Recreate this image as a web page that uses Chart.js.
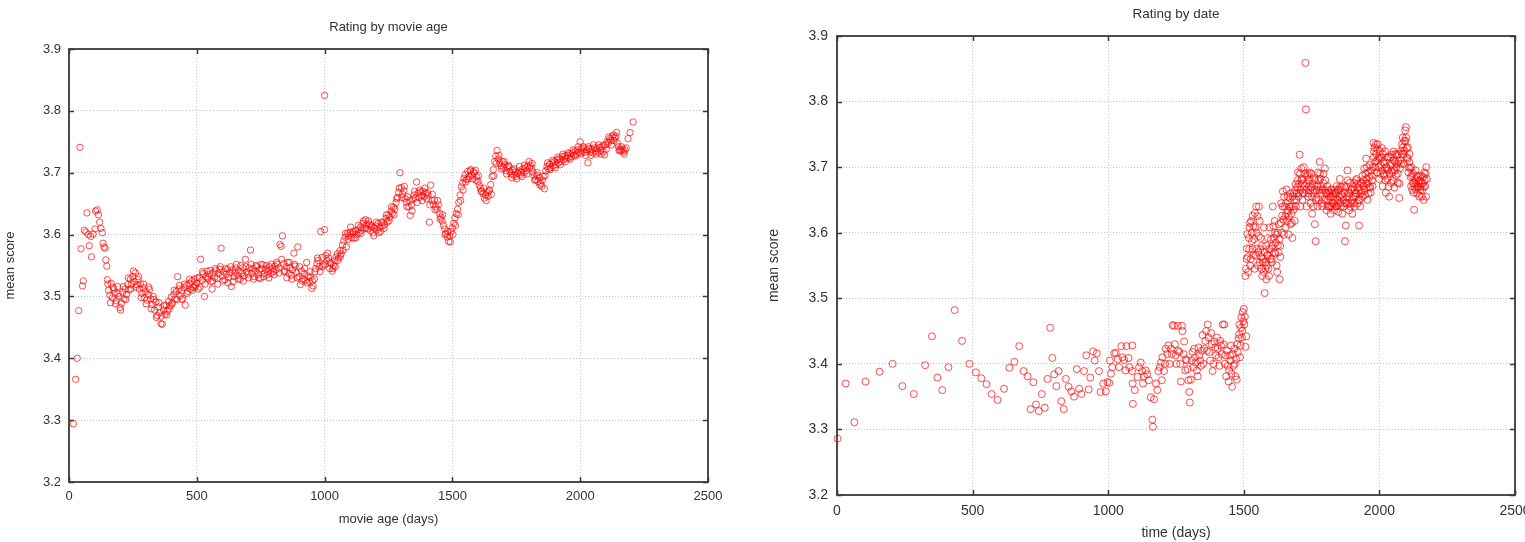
<!DOCTYPE html>
<html>
<head>
<meta charset="utf-8">
<script src="https://cdn.jsdelivr.net/npm/chart.js@4.4.1/dist/chart.umd.min.js"></script>
<style>
  html, body { margin: 0; padding: 0; background: #fff; overflow: hidden; width: 1525px; height: 542px; }
  #leftBox  { position: absolute; left: 0;     top: 0; width: 740px; height: 542px; background: #fff; }
  #rightBox { position: absolute; left: 722px; top: 0; width: 823px; height: 542px; background: #fff; }
</style>
</head>
<body>
<div id="leftBox"><canvas id="ageChart" width="740" height="542"></canvas></div>
<div id="rightBox"><canvas id="dateChart" width="823" height="542"></canvas></div>
<script>
// ---------------------------------------------------------------
// Dados (estimativas a partir da imagem)
// ---------------------------------------------------------------

// Eixos comuns
const xTickValues = [0, 500, 1000, 1500, 2000, 2500];
const yTickValues = [3.2, 3.3, 3.4, 3.5, 3.6, 3.7, 3.8, 3.9];

// "Rating by movie age" -- idade do filme (dias) e nota média
const ageDays = [
  17, 26, 32, 38, 43, 47, 53, 56, 60, 66, 70, 76, 79, 85, 88, 94, 102, 104, 110, 115,
  120, 125, 130, 133, 137, 141, 144, 148,
  150, 155, 160, 165, 170, 175, 180, 185, 190, 195, 200, 205, 210, 215, 220, 225, 230, 235, 240, 245,
  250, 255, 260, 265, 270, 275, 280, 285, 290, 295, 300, 305, 310, 315, 320, 325, 330, 335, 340, 345,
  350, 355, 360, 365, 370, 375, 380, 385, 390, 395, 400, 405, 410, 415, 420, 425, 430, 435, 440, 445,
  450, 455, 460, 465, 470, 475, 480, 485, 490, 495, 500, 505, 510, 515, 520, 525, 530, 535, 540, 545,
  550, 555, 560, 565, 570, 575, 580, 585, 590, 595, 600, 605, 610, 615, 620, 625, 630, 635, 640, 645,
  650, 655, 660, 665, 670, 675, 680, 685, 690, 695, 700, 705, 710, 715, 720, 725, 730, 735, 740, 745,
  750, 755, 760, 765, 770, 775, 780, 785, 790, 795, 800, 805, 810, 815, 820, 825, 830, 835, 840, 845,
  850, 855, 860, 865, 870, 875, 880, 885, 890, 895, 900, 905, 910, 915, 920, 925, 930, 935, 940, 945,
  950, 955, 960, 965, 970, 975, 980, 985, 990, 995, 1000, 1000, 1005, 1010, 1015, 1020, 1025, 1030, 1035, 1040, 1045,
  1050, 1055, 1060, 1065, 1070, 1075, 1080, 1085, 1090, 1095, 1100, 1105, 1110, 1115, 1120, 1125, 1130, 1135, 1140, 1145,
  1150, 1155, 1160, 1165, 1170, 1175, 1180, 1185, 1190, 1195, 1200, 1205, 1210, 1215, 1220, 1225, 1230, 1235, 1240, 1245,
  1250, 1255, 1260, 1265, 1270, 1275, 1280, 1285, 1290, 1295, 1300, 1305, 1310, 1315, 1320, 1325, 1330, 1335, 1340, 1345,
  1350, 1355, 1360, 1365, 1370, 1375, 1380, 1385, 1390, 1395, 1400, 1405, 1410, 1415, 1420, 1425, 1430, 1435, 1440, 1445,
  1450, 1455, 1460, 1465, 1470, 1475, 1480, 1485, 1490, 1495, 1500, 1505, 1510, 1515, 1520, 1525, 1530, 1535, 1540, 1545,
  1550, 1555, 1560, 1565, 1570, 1575, 1580, 1585, 1590, 1595, 1600, 1605, 1610, 1615, 1620, 1625, 1630, 1635, 1640, 1645,
  1650, 1655, 1660, 1665, 1670, 1675, 1680, 1685, 1690, 1695, 1700, 1705, 1710, 1715, 1720, 1725, 1730, 1735, 1740, 1745,
  1750, 1755, 1760, 1765, 1770, 1775, 1780, 1785, 1790, 1795, 1800, 1805, 1810, 1815, 1820, 1825, 1830, 1835, 1840, 1845,
  1850, 1855, 1860, 1865, 1870, 1875, 1880, 1885, 1890, 1895, 1900, 1905, 1910, 1915, 1920, 1925, 1930, 1935, 1940, 1945,
  1950, 1955, 1960, 1965, 1970, 1975, 1980, 1985, 1990, 1995, 2000, 2005, 2010, 2015, 2020, 2025, 2030, 2035, 2040, 2045,
  2050, 2055, 2060, 2065, 2070, 2075, 2080, 2085, 2090, 2095, 2100, 2105, 2110, 2115, 2120, 2125, 2130, 2135, 2140, 2145,
  2150, 2155, 2160, 2165, 2170, 2175, 2180, 2187, 2195, 2207
];
const ageScores = [
  3.294, 3.366, 3.400, 3.477, 3.741, 3.577, 3.517, 3.525, 3.607, 3.604, 3.635, 3.600, 3.582, 3.597, 3.564, 3.601, 3.609, 3.638, 3.640, 3.632,
  3.620, 3.610, 3.603, 3.586, 3.580, 3.578, 3.559, 3.549,
  3.527, 3.510, 3.502, 3.521, 3.498, 3.512, 3.505, 3.493, 3.516, 3.500, 3.482, 3.489, 3.507, 3.496, 3.512, 3.503, 3.519, 3.511, 3.528, 3.520,
  3.532, 3.524, 3.538, 3.519, 3.527, 3.512, 3.520, 3.505, 3.514, 3.498, 3.508, 3.494, 3.503, 3.511, 3.496, 3.487, 3.500, 3.478, 3.491, 3.469,
  3.483, 3.474, 3.456, 3.455, 3.478, 3.471, 3.486, 3.476, 3.492, 3.485, 3.499, 3.490, 3.503, 3.496, 3.508, 3.532, 3.512, 3.501, 3.509, 3.497,
  3.514, 3.486, 3.518, 3.508, 3.521, 3.512, 3.525, 3.515, 3.528, 3.518, 3.522, 3.512, 3.530, 3.560, 3.526, 3.537, 3.500, 3.532, 3.541, 3.528,
  3.536, 3.524, 3.512, 3.538, 3.531, 3.542, 3.529, 3.537, 3.544, 3.578, 3.533, 3.540, 3.527, 3.536, 3.544, 3.531, 3.538, 3.516, 3.543, 3.532,
  3.539, 3.552, 3.534, 3.541, 3.528, 3.538, 3.546, 3.533, 3.560, 3.540, 3.536, 3.546, 3.575, 3.538, 3.545, 3.532, 3.541, 3.548, 3.536, 3.543,
  3.529, 3.545, 3.551, 3.538, 3.544, 3.535, 3.541, 3.548, 3.537, 3.545, 3.540, 3.549, 3.543, 3.552, 3.546, 3.584, 3.581, 3.598, 3.553, 3.541,
  3.548, 3.555, 3.537, 3.546, 3.534, 3.543, 3.570, 3.549, 3.538, 3.580, 3.532, 3.519, 3.541, 3.529, 3.537, 3.526, 3.555, 3.533, 3.524, 3.531,
  3.513, 3.517, 3.528, 3.545, 3.553, 3.558, 3.548, 3.605, 3.563, 3.551, 3.608, 3.825, 3.566, 3.558, 3.562, 3.545, 3.553, 3.541, 3.550, 3.558, 3.564,
  3.569, 3.562, 3.574, 3.569, 3.583, 3.590, 3.596, 3.580, 3.602, 3.598, 3.604, 3.595, 3.601, 3.594, 3.606, 3.600, 3.608, 3.603, 3.612, 3.607,
  3.618, 3.611, 3.624, 3.616, 3.609, 3.617, 3.606, 3.612, 3.603, 3.610, 3.614, 3.607, 3.618, 3.611, 3.605, 3.614, 3.620, 3.616, 3.626, 3.621,
  3.632, 3.628, 3.638, 3.634, 3.644, 3.641, 3.652, 3.660, 3.668, 3.700, 3.676, 3.665, 3.671, 3.658, 3.652, 3.661, 3.645, 3.631, 3.648, 3.657,
  3.664, 3.659, 3.685, 3.667, 3.660, 3.669, 3.663, 3.670, 3.661, 3.667, 3.658, 3.664, 3.620, 3.680, 3.655, 3.649, 3.656, 3.645, 3.641, 3.648,
  3.634, 3.628, 3.622, 3.615, 3.609, 3.602, 3.596, 3.589, 3.598, 3.605, 3.611, 3.618, 3.627, 3.634, 3.641, 3.652, 3.664, 3.677, 3.684, 3.691,
  3.697, 3.689, 3.702, 3.694, 3.703, 3.696, 3.690, 3.699, 3.704, 3.693, 3.686, 3.680, 3.675, 3.670, 3.666, 3.659, 3.664, 3.668, 3.662, 3.672,
  3.681, 3.694, 3.705, 3.718, 3.727, 3.736, 3.722, 3.716, 3.711, 3.718, 3.708, 3.713, 3.703, 3.709, 3.712, 3.702, 3.698, 3.704, 3.696, 3.701,
  3.694, 3.699, 3.703, 3.697, 3.701, 3.706, 3.700, 3.708, 3.703, 3.711, 3.718, 3.712, 3.707, 3.701, 3.695, 3.689, 3.696, 3.686, 3.692, 3.683,
  3.678, 3.694, 3.674, 3.703, 3.710, 3.706, 3.714, 3.708, 3.716, 3.711, 3.718, 3.713, 3.721, 3.716, 3.722, 3.718, 3.726, 3.721, 3.727, 3.723,
  3.728, 3.724, 3.731, 3.726, 3.732, 3.728, 3.735, 3.730, 3.737, 3.733, 3.750, 3.738, 3.734, 3.740, 3.733, 3.737, 3.716, 3.739, 3.734, 3.738,
  3.732, 3.740, 3.735, 3.739, 3.733, 3.741, 3.736, 3.742, 3.734, 3.729, 3.745, 3.750, 3.748, 3.755, 3.752, 3.758, 3.761, 3.756, 3.759, 3.748,
  3.742, 3.737, 3.735, 3.738, 3.734, 3.737, 3.740, 3.755, 3.765, 3.782
];

// pontos intermediários da mesma faixa (a banda é mais grossa que uma linha)
const ageDaysMid = [
  152, 162, 172, 182, 192, 202, 212, 222, 232, 242, 252, 262, 272, 282, 292, 302, 312, 322, 332, 342,
  352, 362, 372, 382, 392, 402, 412, 422, 432, 442, 452, 462, 472, 482, 492, 502, 512, 522, 532, 542,
  552, 562, 572, 582, 592, 602, 612, 622, 632, 642, 652, 662, 672, 682, 692, 702, 712, 722, 732, 742,
  752, 762, 772, 782, 792, 802, 812, 822, 832, 842, 852, 862, 872, 882, 892, 902, 912, 922, 932, 942,
  952, 962, 972, 982, 992, 1002, 1012, 1022, 1032, 1042, 1052, 1062, 1072, 1082, 1092, 1102, 1112, 1122, 1132, 1142,
  1152, 1162, 1172, 1182, 1192, 1202, 1212, 1222, 1232, 1242, 1252, 1262, 1272, 1282, 1292, 1302, 1312, 1322, 1332, 1342,
  1352, 1362, 1372, 1382, 1392, 1402, 1412, 1422, 1432, 1442, 1452, 1462, 1472, 1482, 1492, 1502, 1512, 1522, 1532, 1542,
  1552, 1562, 1572, 1582, 1592, 1602, 1612, 1622, 1632, 1642, 1652, 1662, 1672, 1682, 1692, 1702, 1712, 1722, 1732, 1742,
  1752, 1762, 1772, 1782, 1792, 1802, 1812, 1822, 1832, 1842, 1852, 1862, 1872, 1882, 1892, 1902, 1912, 1922, 1932, 1942,
  1952, 1962, 1972, 1982, 1992, 2002, 2012, 2022, 2032, 2042, 2052, 2062, 2072, 2082, 2092, 2102, 2112, 2122, 2132, 2142,
  2152, 2162, 2172
];
const ageScoresMid = [
  3.520, 3.490, 3.515, 3.488, 3.505, 3.478, 3.516, 3.495, 3.530, 3.512, 3.541, 3.515, 3.532, 3.498, 3.520, 3.488, 3.515, 3.480, 3.495, 3.466,
  3.490, 3.468, 3.485, 3.470, 3.480, 3.487, 3.510, 3.495, 3.518, 3.495, 3.520, 3.505, 3.528, 3.510, 3.515, 3.530, 3.515, 3.540, 3.520, 3.530,
  3.542, 3.525, 3.545, 3.520, 3.548, 3.525, 3.545, 3.522, 3.548, 3.524, 3.546, 3.528, 3.550, 3.525, 3.548, 3.530, 3.552, 3.528, 3.550, 3.530,
  3.552, 3.532, 3.550, 3.530, 3.552, 3.535, 3.555, 3.538, 3.560, 3.540, 3.530, 3.555, 3.528, 3.552, 3.530, 3.548, 3.525, 3.545, 3.522, 3.540,
  3.525, 3.540, 3.562, 3.540, 3.548, 3.552, 3.570, 3.555, 3.545, 3.548, 3.558, 3.565, 3.575, 3.602, 3.592, 3.612, 3.605, 3.595, 3.615, 3.602,
  3.622, 3.610, 3.622, 3.615, 3.598, 3.620, 3.603, 3.620, 3.610, 3.632, 3.622, 3.645, 3.632, 3.658, 3.675, 3.660, 3.678, 3.645, 3.655, 3.638,
  3.670, 3.652, 3.672, 3.655, 3.675, 3.668, 3.648, 3.665, 3.640, 3.655, 3.625, 3.632, 3.600, 3.605, 3.588, 3.600, 3.615, 3.632, 3.655, 3.672,
  3.685, 3.690, 3.705, 3.702, 3.688, 3.695, 3.670, 3.675, 3.655, 3.670, 3.665, 3.695, 3.715, 3.728, 3.706, 3.718, 3.698, 3.710, 3.692, 3.706,
  3.690, 3.710, 3.694, 3.712, 3.698, 3.708, 3.715, 3.688, 3.700, 3.680, 3.688, 3.695, 3.716, 3.705, 3.720, 3.708, 3.725, 3.713, 3.730, 3.718,
  3.732, 3.722, 3.737, 3.727, 3.742, 3.731, 3.742, 3.728, 3.742, 3.728, 3.745, 3.730, 3.745, 3.730, 3.745, 3.738, 3.758, 3.745, 3.752, 3.765,
  3.736, 3.742, 3.730
];

// "Rating by date" -- tempo (dias) e nota média
const dateDays = [
  2, 32, 64, 105, 157, 205, 241, 283, 325, 350, 370, 388, 411, 434, 461, 488, 512, 532, 551, 570,
  592, 616, 636, 654, 672, 688, 703, 714, 724, 734, 744, 755, 766, 776, 786, 794, 801, 809, 817, 827,
  836, 844, 854, 864, 874, 884, 893, 901, 911, 919, 928, 934, 944, 950, 958, 966, 972, 982, 991, 997,
  1004, 1006, 1015, 1022, 1028, 1035, 1048, 1059, 1067, 1075,
  1088, 1089, 1090, 1091, 1120, 1125, 1132, 1144, 1157, 1163, 1165, 1169, 1181, 1185, 1194, 1200, 1206, 1212, 1222, 1231,
  1237, 1243, 1249, 1256, 1262, 1268, 1272, 1274, 1280, 1286, 1293, 1299, 1301, 1305, 1311, 1317, 1323, 1330, 1336, 1342,
  1348, 1354, 1361, 1367, 1373, 1379, 1385, 1391, 1398, 1404, 1410, 1416, 1422, 1428, 1432, 1435, 1441, 1444, 1449, 1453,
  1457, 1462, 1465, 1469, 1472, 1474, 1478, 1481, 1484, 1488, 1491, 1494, 1496, 1500, 1502, 1506, 1509,
  1506, 1508, 1511, 1514, 1519, 1521, 1524, 1527, 1530, 1533, 1536, 1540, 1543, 1546, 1549, 1552, 1556, 1558, 1562, 1564,
  1568, 1570, 1574, 1577, 1580, 1583, 1586, 1589, 1593, 1595, 1601, 1604, 1607, 1610, 1614, 1617, 1620, 1623, 1626, 1629,
  1632, 1635, 1638, 1641, 1644, 1648, 1651, 1654, 1657, 1660, 1663, 1666, 1669, 1672, 1675, 1679, 1681, 1685, 1688, 1691,
  1694, 1697, 1700, 1703, 1706, 1709, 1712, 1715, 1718, 1721, 1725, 1727, 1729, 1731, 1734, 1737, 1740, 1743, 1746, 1749,
  1752, 1756, 1759, 1762, 1765, 1768, 1771, 1774, 1777, 1780, 1783, 1786, 1789, 1793, 1796, 1799, 1802, 1805, 1808, 1811,
  1814, 1817, 1820, 1823, 1826, 1830, 1833, 1836, 1839, 1842, 1845, 1848, 1851, 1854, 1857, 1860, 1863, 1867, 1870, 1873,
  1876, 1879, 1882, 1885, 1888, 1891, 1894, 1897, 1900, 1904, 1907, 1910, 1913, 1916, 1919, 1922, 1925, 1928, 1931, 1935,
  1938, 1941, 1944, 1947, 1951, 1953, 1956, 1959, 1962, 1965, 1968, 1972, 1975, 1978, 1980, 1984, 1987, 1990, 1993, 1996,
  1999, 2002, 2005, 2009, 2012, 2015, 2018, 2021, 2024, 2027, 2030, 2033, 2036, 2040, 2043, 2046, 2049, 2052, 2055, 2058,
  2061, 2064, 2067, 2070, 2073, 2076, 2079, 2083, 2086, 2089, 2092, 2095, 2098, 2101, 2104, 2107, 2110, 2114, 2117, 2120,
  2123, 2126, 2128, 2132, 2135, 2138, 2141, 2144, 2147, 2151, 2154, 2157, 2160, 2163, 2166, 2169, 2173, 2175
];
const dateScores = [
  3.286, 3.370, 3.311, 3.373, 3.388, 3.400, 3.366, 3.354, 3.398, 3.442, 3.379, 3.360, 3.395, 3.482, 3.435, 3.400, 3.387, 3.378, 3.369, 3.354,
  3.345, 3.362, 3.394, 3.403, 3.427, 3.389, 3.381, 3.331, 3.372, 3.338, 3.328, 3.354, 3.333, 3.377, 3.455, 3.409, 3.384, 3.366, 3.389, 3.343,
  3.331, 3.377, 3.365, 3.358, 3.350, 3.392, 3.362, 3.354, 3.389, 3.413, 3.361, 3.379, 3.419, 3.405, 3.416, 3.389, 3.357, 3.370, 3.358, 3.372,
  3.371, 3.405, 3.395, 3.416, 3.417, 3.407, 3.427, 3.406, 3.427, 3.409,
  3.389, 3.428, 3.370, 3.339, 3.402, 3.389, 3.381, 3.384, 3.349, 3.315, 3.304, 3.346, 3.360, 3.389, 3.402, 3.410, 3.389, 3.423, 3.428, 3.423,
  3.459, 3.458, 3.413, 3.458, 3.418, 3.373, 3.458, 3.450, 3.434, 3.407, 3.392, 3.357, 3.341, 3.376, 3.418, 3.423, 3.402, 3.381, 3.413, 3.397,
  3.444, 3.423, 3.450, 3.460, 3.418, 3.447, 3.389, 3.434, 3.413, 3.423, 3.397, 3.428, 3.460, 3.460, 3.413, 3.381, 3.397, 3.373, 3.413, 3.428,
  3.365, 3.397, 3.423, 3.381, 3.407, 3.376, 3.418, 3.439, 3.460, 3.428, 3.471, 3.450, 3.479, 3.484, 3.460, 3.426, 3.442,
  3.534, 3.545, 3.576, 3.563, 3.592, 3.608, 3.550, 3.618, 3.587, 3.626, 3.566, 3.545, 3.608, 3.640, 3.576, 3.550, 3.640, 3.618, 3.592, 3.563,
  3.534, 3.555, 3.608, 3.508, 3.545, 3.529, 3.566, 3.592, 3.534, 3.608, 3.576, 3.555, 3.640, 3.592, 3.618, 3.568, 3.597, 3.540, 3.581, 3.613,
  3.529, 3.563, 3.645, 3.626, 3.663, 3.597, 3.640, 3.608, 3.666, 3.618, 3.634, 3.597, 3.653, 3.613, 3.629, 3.592, 3.640, 3.661, 3.618, 3.674,
  3.650, 3.669, 3.692, 3.661, 3.719, 3.640, 3.698, 3.682, 3.661, 3.700, 3.671, 3.859, 3.788, 3.640, 3.687, 3.655, 3.671, 3.692, 3.645, 3.669,
  3.629, 3.661, 3.682, 3.613, 3.587, 3.653, 3.671, 3.692, 3.650, 3.708, 3.682, 3.661, 3.640, 3.676, 3.650, 3.698, 3.661, 3.634, 3.671, 3.650,
  3.640, 3.661, 3.629, 3.666, 3.645, 3.655, 3.634, 3.661, 3.640, 3.671, 3.650, 3.632, 3.666, 3.682, 3.645, 3.658, 3.629, 3.650, 3.671, 3.587,
  3.611, 3.645, 3.695, 3.661, 3.634, 3.676, 3.645, 3.666, 3.629, 3.655, 3.676, 3.640, 3.661, 3.682, 3.645, 3.669, 3.611, 3.650, 3.676, 3.663,
  3.687, 3.671, 3.698, 3.658, 3.713, 3.682, 3.650, 3.692, 3.669, 3.703, 3.661, 3.687, 3.671, 3.737, 3.724, 3.708, 3.735, 3.692, 3.727, 3.713,
  3.682, 3.724, 3.703, 3.729, 3.671, 3.708, 3.687, 3.724, 3.661, 3.698, 3.682, 3.716, 3.655, 3.703, 3.676, 3.719, 3.692, 3.724, 3.669, 3.708,
  3.687, 3.719, 3.676, 3.708, 3.653, 3.698, 3.724, 3.735, 3.745, 3.719, 3.740, 3.756, 3.761, 3.729, 3.713, 3.692, 3.708, 3.698, 3.671, 3.687,
  3.676, 3.661, 3.635, 3.682, 3.666, 3.687, 3.671, 3.679, 3.655, 3.666, 3.687, 3.655, 3.676, 3.650, 3.692, 3.671, 3.700, 3.682
];

// pontos extras da nuvem densa (1000..2175 dias)
const dateDaysMid = [
  1010, 1040, 1052, 1064, 1078, 1098, 1108, 1114, 1128, 1138, 1150, 1176, 1190, 1198, 1210, 1218, 1226, 1234, 1246, 1252,
  1258, 1266, 1278, 1284, 1290, 1296, 1308, 1314, 1320, 1327, 1333, 1339, 1345, 1351, 1358, 1364, 1370, 1376, 1382, 1388,
  1395, 1401, 1407, 1413, 1419, 1425, 1430, 1438, 1446, 1451, 1455, 1460, 1467, 1476, 1483, 1486, 1490, 1493, 1498, 1504,
  1510, 1513, 1516, 1520, 1523, 1526, 1529, 1532, 1535, 1538, 1541, 1544, 1547, 1550, 1553, 1555, 1559, 1561, 1565, 1567,
  1571, 1573, 1576, 1579, 1582, 1585, 1588, 1591, 1594, 1597, 1600, 1603, 1606, 1609, 1612, 1615, 1618, 1621, 1625, 1628,
  1631, 1634, 1637, 1640, 1643, 1646, 1649, 1653, 1656, 1659, 1662, 1665, 1668, 1671, 1674, 1677, 1680, 1683, 1686, 1689,
  1692, 1695, 1698, 1701, 1704, 1707, 1710, 1713, 1716, 1719, 1722, 1726, 1730, 1733, 1736, 1739, 1742, 1745, 1748, 1751,
  1754, 1757, 1760, 1763, 1766, 1769, 1772, 1775, 1778, 1781, 1784, 1787, 1790, 1794, 1797, 1800, 1803, 1806, 1809, 1812,
  1815, 1818, 1821, 1824, 1827, 1831, 1834, 1837, 1840, 1843, 1846, 1849, 1852, 1855, 1858, 1861, 1865, 1868, 1871, 1874,
  1877, 1880, 1883, 1886, 1889, 1892, 1895, 1898, 1902, 1905, 1908, 1911, 1914, 1917, 1920, 1923, 1926, 1929, 1933, 1936,
  1939, 1942, 1945, 1948, 1950, 1954, 1957, 1960, 1963, 1966, 1970, 1973, 1976, 1979, 1982, 1985, 1988, 1991, 1994, 1997,
  2000, 2003, 2007, 2010, 2013, 2016, 2019, 2022, 2025, 2028, 2031, 2034, 2038, 2041, 2044, 2047, 2050, 2053, 2056, 2059,
  2062, 2065, 2068, 2071, 2074, 2077, 2080, 2084, 2087, 2090, 2093, 2096, 2099, 2102, 2105, 2108, 2111, 2115, 2118, 2121,
  2124, 2127, 2130, 2133, 2136, 2139, 2142, 2145, 2149, 2152, 2155, 2158, 2161, 2164, 2167, 2170, 2172
];
const dateScoresMid = [
  3.385, 3.395, 3.410, 3.390, 3.395, 3.360, 3.380, 3.395, 3.370, 3.390, 3.375, 3.370, 3.395, 3.375, 3.400, 3.415, 3.400, 3.415, 3.430, 3.400,
  3.420, 3.400, 3.415, 3.390, 3.405, 3.375, 3.405, 3.395, 3.410, 3.390, 3.425, 3.405, 3.420, 3.400, 3.435, 3.420, 3.440, 3.405, 3.430, 3.400,
  3.425, 3.440, 3.410, 3.435, 3.415, 3.430, 3.400, 3.420, 3.390, 3.405, 3.385, 3.415, 3.400, 3.430, 3.445, 3.410, 3.455, 3.440, 3.465, 3.472,
  3.560, 3.598, 3.540, 3.575, 3.615, 3.560, 3.600, 3.575, 3.610, 3.590, 3.630, 3.565, 3.600, 3.625, 3.570, 3.595, 3.555, 3.575, 3.545, 3.580,
  3.560, 3.540, 3.570, 3.555, 3.580, 3.550, 3.565, 3.545, 3.575, 3.560, 3.590, 3.560, 3.580, 3.610, 3.570, 3.600, 3.585, 3.550, 3.600, 3.570,
  3.590, 3.580, 3.615, 3.600, 3.640, 3.620, 3.655, 3.625, 3.645, 3.630, 3.655, 3.625, 3.640, 3.660, 3.640, 3.615, 3.655, 3.635, 3.650, 3.665,
  3.640, 3.660, 3.680, 3.655, 3.675, 3.690, 3.665, 3.680, 3.650, 3.675, 3.660, 3.690, 3.665, 3.675, 3.690, 3.660, 3.680, 3.665, 3.690, 3.655,
  3.675, 3.640, 3.665, 3.680, 3.650, 3.665, 3.640, 3.680, 3.665, 3.690, 3.670, 3.645, 3.665, 3.690, 3.665, 3.680, 3.650, 3.660, 3.640, 3.665,
  3.655, 3.640, 3.655, 3.640, 3.660, 3.645, 3.665, 3.650, 3.660, 3.640, 3.665, 3.645, 3.655, 3.670, 3.640, 3.670, 3.655, 3.640, 3.660, 3.645,
  3.670, 3.655, 3.680, 3.645, 3.660, 3.640, 3.665, 3.650, 3.670, 3.645, 3.665, 3.655, 3.680, 3.660, 3.675, 3.650, 3.665, 3.640, 3.660, 3.675,
  3.655, 3.680, 3.665, 3.690, 3.675, 3.700, 3.675, 3.660, 3.685, 3.670, 3.695, 3.680, 3.700, 3.715, 3.730, 3.700, 3.720, 3.710, 3.735, 3.700,
  3.715, 3.690, 3.715, 3.695, 3.720, 3.690, 3.705, 3.680, 3.700, 3.715, 3.695, 3.670, 3.690, 3.715, 3.695, 3.705, 3.680, 3.710, 3.695, 3.720,
  3.700, 3.705, 3.690, 3.720, 3.675, 3.710, 3.705, 3.720, 3.730, 3.705, 3.725, 3.740, 3.745, 3.715, 3.730, 3.700, 3.720, 3.685, 3.700, 3.665,
  3.690, 3.675, 3.670, 3.695, 3.675, 3.660, 3.685, 3.670, 3.680, 3.670, 3.675, 3.665, 3.685, 3.670, 3.680, 3.690, 3.655
];

// ---------------------------------------------------------------
// Moldura estilo gnuplot: caixa completa + ticks para dentro
// ---------------------------------------------------------------
const gnuplotFrame = {
  id: 'gnuplotFrame',
  beforeDatasetsDraw(chart) {
    const { ctx, chartArea: a, scales: { x, y } } = chart;
    const tick = 5;
    ctx.save();
    ctx.strokeStyle = '#3a3a3a';
    ctx.lineWidth = 1.5;
    ctx.beginPath();
    x.ticks.forEach(t => {
      const px = Math.round(x.getPixelForValue(t.value)) + 0.5;
      ctx.moveTo(px, a.bottom); ctx.lineTo(px, a.bottom - tick);
      ctx.moveTo(px, a.top);    ctx.lineTo(px, a.top + tick);
    });
    y.ticks.forEach(t => {
      const py = Math.round(y.getPixelForValue(t.value)) + 0.5;
      ctx.moveTo(a.left, py);  ctx.lineTo(a.left + tick, py);
      ctx.moveTo(a.right, py); ctx.lineTo(a.right - tick, py);
    });
    ctx.stroke();
    ctx.lineWidth = 1.8;
    ctx.strokeRect(a.left, a.top, a.right - a.left, a.bottom - a.top);
    ctx.restore();
  }
};

/**
 * Monta um gráfico de dispersão com o visual do gnuplot.
 * cfg traz os tamanhos de cada painel (área do gráfico, fontes, paddings).
 */
function buildScatter(canvasId, xs, ys, cfg) {
  const points = xs.map((v, i) => ({ x: v, y: ys[i] }));
  const tickFont = { family: '"Liberation Sans", Arial, sans-serif', size: cfg.tickSize };
  const textColor = '#333';

  return new Chart(document.getElementById(canvasId), {
    type: 'scatter',
    data: {
      datasets: [{
        data: points,
        pointStyle: 'circle',
        pointRadius: cfg.radius,
        pointBorderWidth: 1,
        pointBorderColor: 'rgba(255, 0, 0, 0.7)',
        pointBackgroundColor: 'rgba(0, 0, 0, 0)',
        clip: false
      }]
    },
    options: {
      responsive: false,
      animation: false,
      events: [],
      layout: { padding: { left: 0, right: cfg.rightPad, top: 0, bottom: 0 } },
      plugins: {
        legend: { display: false },
        tooltip: { enabled: false },
        title: {
          display: true,
          text: cfg.title,
          fullSize: false,
          color: textColor,
          font: { family: tickFont.family, size: cfg.titleSize, weight: 'normal' },
          padding: { top: cfg.titleTop, bottom: cfg.titleBottom }
        }
      },
      scales: {
        x: {
          type: 'linear',
          min: 0, max: 2500,
          afterBuildTicks: s => { s.ticks = xTickValues.map(v => ({ value: v })); },
          afterFit: s => { s.height = cfg.xAxisHeight; },
          ticks: { color: textColor, font: tickFont, padding: cfg.xTickPad, maxRotation: 0, callback: v => String(v) },
          grid: { color: '#c4c4c4', lineWidth: 1, drawTicks: false },
          border: { display: false, dash: [1, 2] },
          title: {
            display: true, text: cfg.xTitle, color: textColor,
            font: { family: tickFont.family, size: cfg.tickSize },
            padding: { top: 0, bottom: cfg.xTitleBottom }
          }
        },
        y: {
          type: 'linear',
          min: 3.2, max: 3.9,
          afterBuildTicks: s => { s.ticks = yTickValues.map(v => ({ value: v })); },
          afterFit: s => { s.width = cfg.yAxisWidth; },
          ticks: { color: textColor, font: tickFont, padding: cfg.yTickPad, callback: v => v.toFixed(1) },
          grid: { color: '#c4c4c4', lineWidth: 1, drawTicks: false },
          border: { display: false, dash: [1, 2] },
          title: {
            display: true, text: 'mean score', color: textColor,
            font: { family: tickFont.family, size: cfg.tickSize },
            padding: { top: cfg.yTitleTop, bottom: 0 }
          }
        }
      }
    },
    plugins: [gnuplotFrame]
  });
}

document.addEventListener('DOMContentLoaded', () => {
  // painel esquerdo: área do gráfico x 69..708, y 49..482
  buildScatter('ageChart', ageDays.concat(ageDaysMid), ageScores.concat(ageScoresMid), {
    title: 'Rating by movie age', xTitle: 'movie age (days)',
    tickSize: 13, titleSize: 13, radius: 3.2,
    rightPad: 32, titleTop: 20, titleBottom: 13.4,
    xAxisHeight: 60, xTickPad: 7, xTitleBottom: 15,
    yAxisWidth: 69, yTickPad: 8, yTitleTop: 2.5
  });

  // painel direito: área do gráfico x 837..1515, y 36..495 (local: 115..793)
  buildScatter('dateChart', dateDays.concat(dateDaysMid), dateScores.concat(dateScoresMid), {
    title: 'Rating by date', xTitle: 'time (days)',
    tickSize: 14, titleSize: 13.5, radius: 3.5,
    rightPad: 30, titleTop: 6.5, titleBottom: 13.3,
    xAxisHeight: 47, xTickPad: 7.5, xTitleBottom: 0,
    yAxisWidth: 115, yTickPad: 9, yTitleTop: 44
  });
});
</script>
</body>
</html>
